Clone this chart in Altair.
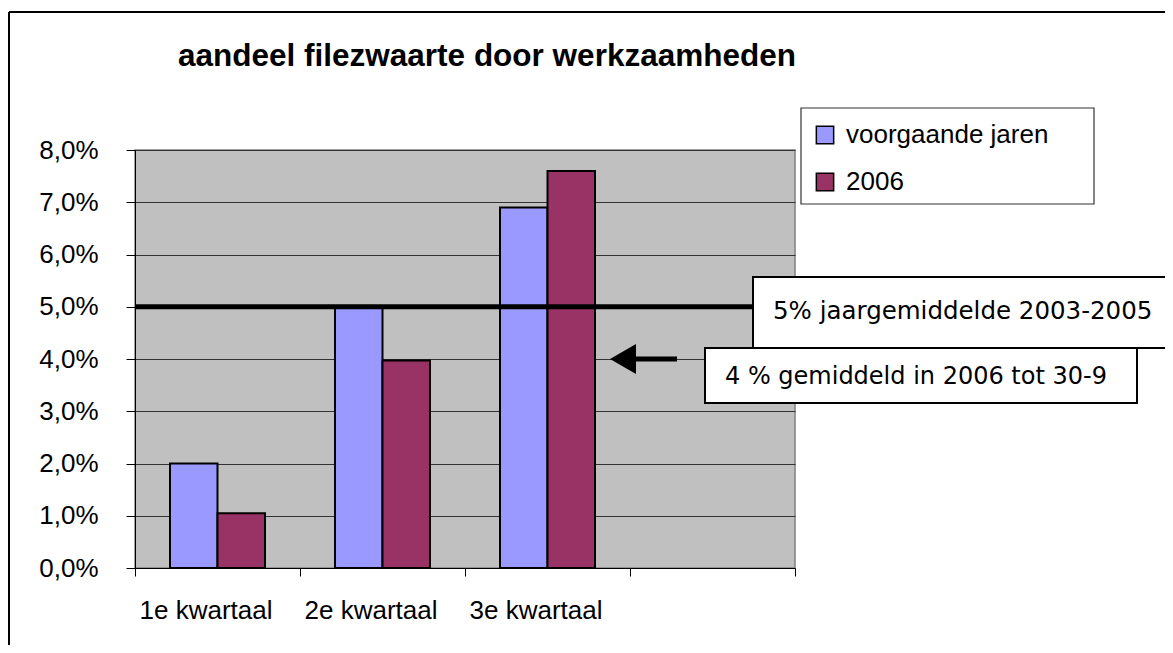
import altair as alt
import pandas as pd

# ---- data ----
kwartalen = ["1e kwartaal", "2e kwartaal", "3e kwartaal"]
x_domein = kwartalen + [" "]          # fourth, empty category slot
reeksen = ["voorgaande jaren", "2006"]
voorgaande = [0.020, 0.050, 0.069]
jaar2006 = [0.0105, 0.0397, 0.076]
kleuren = ["#9999FF", "#993366"]
y_ticks = [0.0, 0.01, 0.02, 0.03, 0.04, 0.05, 0.06, 0.07, 0.08]
jaargemiddelde = 0.05
gemiddeld_2006 = 0.04
titel = "aandeel filezwaarte door werkzaamheden"
tekst_5 = "5% jaargemiddelde 2003-2005"
tekst_4 = "4 % gemiddeld in 2006 tot 30-9"

rows = []
for k, v1, v2 in zip(kwartalen, voorgaande, jaar2006):
    rows.append({"kwartaal": k, "reeks": reeksen[0], "waarde": v1})
    rows.append({"kwartaal": k, "reeks": reeksen[1], "waarde": v2})
df = pd.DataFrame(rows)

W, H = 660, 418
FONT = "Liberation Sans"
NOTE_FONT = "DejaVu Sans"

x_enc = alt.X(
    "kwartaal:N",
    scale=alt.Scale(domain=x_domein, paddingInner=0, paddingOuter=0),
    axis=alt.Axis(title=None, labelAngle=0, tickBand="extent", tickSize=8,
                  tickColor="black", domainColor="black", labelFont=FONT,
                  labelFontSize=26, labelColor="black", labelPadding=21,
                  labelOffset=-12, grid=False),
)
y_enc = alt.Y(
    "waarde:Q",
    scale=alt.Scale(domain=[0, 0.08], nice=False, zero=True),
    axis=alt.Axis(title=None, values=y_ticks,
                  labelExpr="replace(format(datum.value, '.1%'), '.', ',')",
                  grid=True, gridColor="#333333", gridWidth=1, tickSize=9,
                  tickColor="black", domainColor="black", labelFont=FONT,
                  labelFontSize=26, labelColor="black", labelPadding=28),
)

bars = alt.Chart(df).mark_bar(stroke="black", strokeWidth=2).encode(
    x=x_enc,
    xOffset=alt.XOffset("reeks:N", scale=alt.Scale(domain=reeksen, paddingInner=0, paddingOuter=0.737)),
    y=y_enc,
    color=alt.Color("reeks:N", scale=alt.Scale(domain=reeksen, range=kleuren),
                    legend=alt.Legend(title=None, orient="none", legendX=677, legendY=-28,
                                      symbolType="square", symbolSize=300,
                                      symbolStrokeColor="black", symbolStrokeWidth=1.5,
                                      labelFont=FONT, labelFontSize=26, labelColor="black",
                                      labelOffset=8, labelLimit=0, rowPadding=21, padding=0)),
)

one = pd.DataFrame({"d": [0]})

rule5 = alt.Chart(one).mark_rule(color="black", strokeWidth=5).encode(
    x=alt.value(0), x2=alt.value(1045), y=alt.datum(jaargemiddelde))

legend_box = alt.Chart(one).mark_rect(fill="white", stroke="#333333", strokeWidth=1.2).encode(
    x=alt.value(666), x2=alt.value(959), y=alt.value(-42), y2=alt.value(54))

box5 = alt.Chart(one).mark_rect(fill="white", stroke="black", strokeWidth=2).encode(
    x=alt.value(618), x2=alt.value(1060), y=alt.value(127), y2=alt.value(198))
box4 = alt.Chart(one).mark_rect(fill="white", stroke="black", strokeWidth=2).encode(
    x=alt.value(570), x2=alt.value(1002), y=alt.value(198), y2=alt.value(253))

txt5 = alt.Chart(pd.DataFrame({"t": [tekst_5]})).mark_text(
    align="left", baseline="middle", font=NOTE_FONT, fontSize=24.5, color="black").encode(
    x=alt.value(638), y=alt.value(162), text="t:N")
txt4 = alt.Chart(pd.DataFrame({"t": [tekst_4]})).mark_text(
    align="left", baseline="middle", font=NOTE_FONT, fontSize=24, color="black").encode(
    x=alt.value(590), y=alt.value(227), text="t:N")

shaft = alt.Chart(one).mark_rule(color="black", strokeWidth=5).encode(
    x=alt.value(495), x2=alt.value(542), y=alt.datum(gemiddeld_2006))
head = alt.Chart(one).mark_point(shape="triangle-left", filled=True, color="black",
                                 size=900, opacity=1).encode(
    x=alt.value(488), y=alt.datum(gemiddeld_2006))

title_mark = alt.Chart(pd.DataFrame({"t": [titel]})).mark_text(
    align="left", baseline="middle", font=FONT, fontSize=31.5, fontWeight="bold",
    color="black").encode(x=alt.value(43), y=alt.value(-93), text="t:N")

frame_top = alt.Chart(one).mark_rule(color="black", strokeWidth=2).encode(
    x=alt.value(-126), x2=alt.value(1100), y=alt.value(-138))
frame_left = alt.Chart(one).mark_rule(color="black", strokeWidth=2).encode(
    x=alt.value(-126), y=alt.value(-138), y2=alt.value(600))

chart = alt.layer(
    bars, rule5, legend_box, box5, box4, txt5, txt4, shaft, head, title_mark,
    frame_top, frame_left,
).properties(
    width=W, height=H,
    autosize=alt.AutoSizeParams(type="none"),
    padding={"left": 127, "top": 142, "right": 370, "bottom": 77},
    background="white",
).configure_view(fill="#C0C0C0", stroke="#808080", strokeWidth=1.5)

chart.save("out.html", embed_options={"renderer": "svg", "actions": False})
